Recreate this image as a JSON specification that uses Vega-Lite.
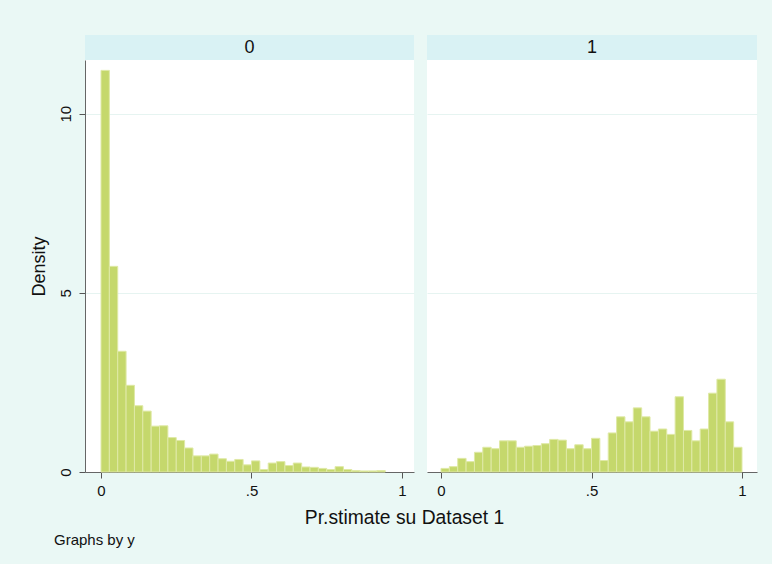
{
  "$schema": "https://vega.github.io/schema/vega-lite/v6.json",
  "background": "#EAF8F5",
  "padding": {"left": 29, "top": 35, "right": 15, "bottom": 20},
  "config": {
    "view": {"fill": "white", "stroke": null},
    "font": "Liberation Sans",
    "axis": {
      "domainColor": "#666666",
      "tickColor": "#555555",
      "tickSize": 6,
      "labelFontSize": 15,
      "labelColor": "#111111",
      "titleFontSize": 18,
      "titleFontWeight": "normal",
      "titleColor": "#111111",
      "gridColor": "#E6F4F1",
      "gridWidth": 1
    }
  },
  "datasets": {
    "bars": [
      {"panel": 0, "x0": 0, "x1": 0.02778, "density": 11.21},
      {"panel": 0, "x0": 0.02778, "x1": 0.05556, "density": 5.74},
      {"panel": 0, "x0": 0.05556, "x1": 0.08333, "density": 3.37},
      {"panel": 0, "x0": 0.08333, "x1": 0.11111, "density": 2.42},
      {"panel": 0, "x0": 0.11111, "x1": 0.13889, "density": 1.85},
      {"panel": 0, "x0": 0.13889, "x1": 0.16667, "density": 1.70},
      {"panel": 0, "x0": 0.16667, "x1": 0.19444, "density": 1.28},
      {"panel": 0, "x0": 0.19444, "x1": 0.22222, "density": 1.29},
      {"panel": 0, "x0": 0.22222, "x1": 0.25, "density": 0.96},
      {"panel": 0, "x0": 0.25, "x1": 0.27778, "density": 0.88},
      {"panel": 0, "x0": 0.27778, "x1": 0.30556, "density": 0.67},
      {"panel": 0, "x0": 0.30556, "x1": 0.33333, "density": 0.45},
      {"panel": 0, "x0": 0.33333, "x1": 0.36111, "density": 0.45},
      {"panel": 0, "x0": 0.36111, "x1": 0.38889, "density": 0.50},
      {"panel": 0, "x0": 0.38889, "x1": 0.41667, "density": 0.37},
      {"panel": 0, "x0": 0.41667, "x1": 0.44444, "density": 0.30},
      {"panel": 0, "x0": 0.44444, "x1": 0.47222, "density": 0.35},
      {"panel": 0, "x0": 0.47222, "x1": 0.5, "density": 0.20},
      {"panel": 0, "x0": 0.5, "x1": 0.52778, "density": 0.31},
      {"panel": 0, "x0": 0.52778, "x1": 0.55556, "density": 0.07},
      {"panel": 0, "x0": 0.55556, "x1": 0.58333, "density": 0.25},
      {"panel": 0, "x0": 0.58333, "x1": 0.61111, "density": 0.29},
      {"panel": 0, "x0": 0.61111, "x1": 0.63889, "density": 0.18},
      {"panel": 0, "x0": 0.63889, "x1": 0.66667, "density": 0.25},
      {"panel": 0, "x0": 0.66667, "x1": 0.69444, "density": 0.14},
      {"panel": 0, "x0": 0.69444, "x1": 0.72222, "density": 0.13},
      {"panel": 0, "x0": 0.72222, "x1": 0.75, "density": 0.10},
      {"panel": 0, "x0": 0.75, "x1": 0.77778, "density": 0.07},
      {"panel": 0, "x0": 0.77778, "x1": 0.80556, "density": 0.15},
      {"panel": 0, "x0": 0.80556, "x1": 0.83333, "density": 0.07},
      {"panel": 0, "x0": 0.83333, "x1": 0.86111, "density": 0.04},
      {"panel": 0, "x0": 0.86111, "x1": 0.88889, "density": 0.03},
      {"panel": 0, "x0": 0.88889, "x1": 0.91667, "density": 0.03},
      {"panel": 0, "x0": 0.91667, "x1": 0.94444, "density": 0.04},
      {"panel": 1, "x0": 0, "x1": 0.02778, "density": 0.10},
      {"panel": 1, "x0": 0.02778, "x1": 0.05556, "density": 0.15},
      {"panel": 1, "x0": 0.05556, "x1": 0.08333, "density": 0.38},
      {"panel": 1, "x0": 0.08333, "x1": 0.11111, "density": 0.29},
      {"panel": 1, "x0": 0.11111, "x1": 0.13889, "density": 0.55},
      {"panel": 1, "x0": 0.13889, "x1": 0.16667, "density": 0.69},
      {"panel": 1, "x0": 0.16667, "x1": 0.19444, "density": 0.65},
      {"panel": 1, "x0": 0.19444, "x1": 0.22222, "density": 0.87},
      {"panel": 1, "x0": 0.22222, "x1": 0.25, "density": 0.87},
      {"panel": 1, "x0": 0.25, "x1": 0.27778, "density": 0.69},
      {"panel": 1, "x0": 0.27778, "x1": 0.30556, "density": 0.72},
      {"panel": 1, "x0": 0.30556, "x1": 0.33333, "density": 0.74},
      {"panel": 1, "x0": 0.33333, "x1": 0.36111, "density": 0.79},
      {"panel": 1, "x0": 0.36111, "x1": 0.38889, "density": 0.91},
      {"panel": 1, "x0": 0.38889, "x1": 0.41667, "density": 0.89},
      {"panel": 1, "x0": 0.41667, "x1": 0.44444, "density": 0.65},
      {"panel": 1, "x0": 0.44444, "x1": 0.47222, "density": 0.76},
      {"panel": 1, "x0": 0.47222, "x1": 0.5, "density": 0.65},
      {"panel": 1, "x0": 0.5, "x1": 0.52778, "density": 0.94},
      {"panel": 1, "x0": 0.52778, "x1": 0.55556, "density": 0.32},
      {"panel": 1, "x0": 0.55556, "x1": 0.58333, "density": 1.09},
      {"panel": 1, "x0": 0.58333, "x1": 0.61111, "density": 1.54},
      {"panel": 1, "x0": 0.61111, "x1": 0.63889, "density": 1.40},
      {"panel": 1, "x0": 0.63889, "x1": 0.66667, "density": 1.79},
      {"panel": 1, "x0": 0.66667, "x1": 0.69444, "density": 1.54},
      {"panel": 1, "x0": 0.69444, "x1": 0.72222, "density": 1.14},
      {"panel": 1, "x0": 0.72222, "x1": 0.75, "density": 1.20},
      {"panel": 1, "x0": 0.75, "x1": 0.77778, "density": 1.05},
      {"panel": 1, "x0": 0.77778, "x1": 0.80556, "density": 2.10},
      {"panel": 1, "x0": 0.80556, "x1": 0.83333, "density": 1.16},
      {"panel": 1, "x0": 0.83333, "x1": 0.86111, "density": 0.87},
      {"panel": 1, "x0": 0.86111, "x1": 0.88889, "density": 1.20},
      {"panel": 1, "x0": 0.88889, "x1": 0.91667, "density": 2.20},
      {"panel": 1, "x0": 0.91667, "x1": 0.94444, "density": 2.59},
      {"panel": 1, "x0": 0.94444, "x1": 0.97222, "density": 1.40},
      {"panel": 1, "x0": 0.97222, "x1": 1.0, "density": 0.69}
    ]
  },
  "title": {
    "text": "Graphs by y",
    "orient": "bottom",
    "anchor": "start",
    "fontSize": 15,
    "fontWeight": "normal",
    "color": "#111111",
    "dx": 24,
    "offset": 5
  },
  "vconcat": [
    {
      "title": {
        "text": "Pr.stimate su Dataset 1",
        "orient": "bottom",
        "anchor": "middle",
        "fontSize": 19.3,
        "fontWeight": "normal",
        "color": "#111111",
        "dx": 11,
        "offset": 11
      },
      "spacing": 13,
      "hconcat": [
        {
          "spacing": 0,
          "vconcat": [
            {
              "width": 329,
              "height": 25,
              "data": {"values": [{"lab": "0"}]},
              "view": {"fill": "#D9F2F4", "stroke": null},
              "layer": [
                {
                  "mark": {"type": "text", "fontSize": 18, "color": "#111111"},
                  "encoding": {"text": {"field": "lab", "type": "nominal"}}
                }
              ]
            },
            {
              "width": 329,
              "height": 412,
              "data": {"name": "bars"},
              "transform": [{"filter": "datum.panel == 0"}],
              "mark": {"type": "bar", "fill": "#C5D86C", "stroke": "#DFE9A6", "strokeWidth": 1},
              "encoding": {
                "x": {
                  "field": "x0",
                  "type": "quantitative",
                  "scale": {"domain": [-0.0532, 1.04], "nice": false, "zero": false},
                  "axis": {
                    "values": [0, 0.5, 1],
                    "labelExpr": "datum.value == 0.5 ? '.5' : (datum.value == 0 ? '0' : '1')",
                    "labelFlush": false,
                    "labelPadding": 5,
                    "grid": false,
                    "title": null
                  }
                },
                "x2": {"field": "x1"},
                "y": {
                  "field": "density",
                  "type": "quantitative",
                  "scale": {"domain": [0, 11.5], "nice": false},
                  "axis": {
                    "values": [0, 5, 10],
                    "labelAngle": -90,
                    "labelAlign": "center",
                    "labelBaseline": "alphabetic",
                    "labelPadding": 9,
                    "grid": true,
                    "title": "Density",
                    "titlePadding": 10
                  }
                },
                "y2": {"datum": 0}
              }
            }
          ]
        },
        {
          "spacing": 0,
          "vconcat": [
            {
              "width": 330,
              "height": 25,
              "data": {"values": [{"lab": "1"}]},
              "view": {"fill": "#D9F2F4", "stroke": null},
              "layer": [
                {
                  "mark": {"type": "text", "fontSize": 18, "color": "#111111"},
                  "encoding": {"text": {"field": "lab", "type": "nominal"}}
                }
              ]
            },
            {
              "width": 330,
              "height": 412,
              "data": {"name": "bars"},
              "transform": [{"filter": "datum.panel == 1"}],
              "mark": {"type": "bar", "fill": "#C5D86C", "stroke": "#DFE9A6", "strokeWidth": 1},
              "encoding": {
                "x": {
                  "field": "x0",
                  "type": "quantitative",
                  "scale": {"domain": [-0.0465, 1.0498], "nice": false, "zero": false},
                  "axis": {
                    "values": [0, 0.5, 1],
                    "labelExpr": "datum.value == 0.5 ? '.5' : (datum.value == 0 ? '0' : '1')",
                    "labelFlush": false,
                    "labelPadding": 5,
                    "grid": false,
                    "title": null
                  }
                },
                "x2": {"field": "x1"},
                "y": {
                  "field": "density",
                  "type": "quantitative",
                  "scale": {"domain": [0, 11.5], "nice": false},
                  "axis": {
                    "values": [0, 5, 10],
                    "domain": false,
                    "ticks": false,
                    "labels": false,
                    "grid": true,
                    "title": null
                  }
                },
                "y2": {"datum": 0}
              }
            }
          ]
        }
      ]
    }
  ]
}
